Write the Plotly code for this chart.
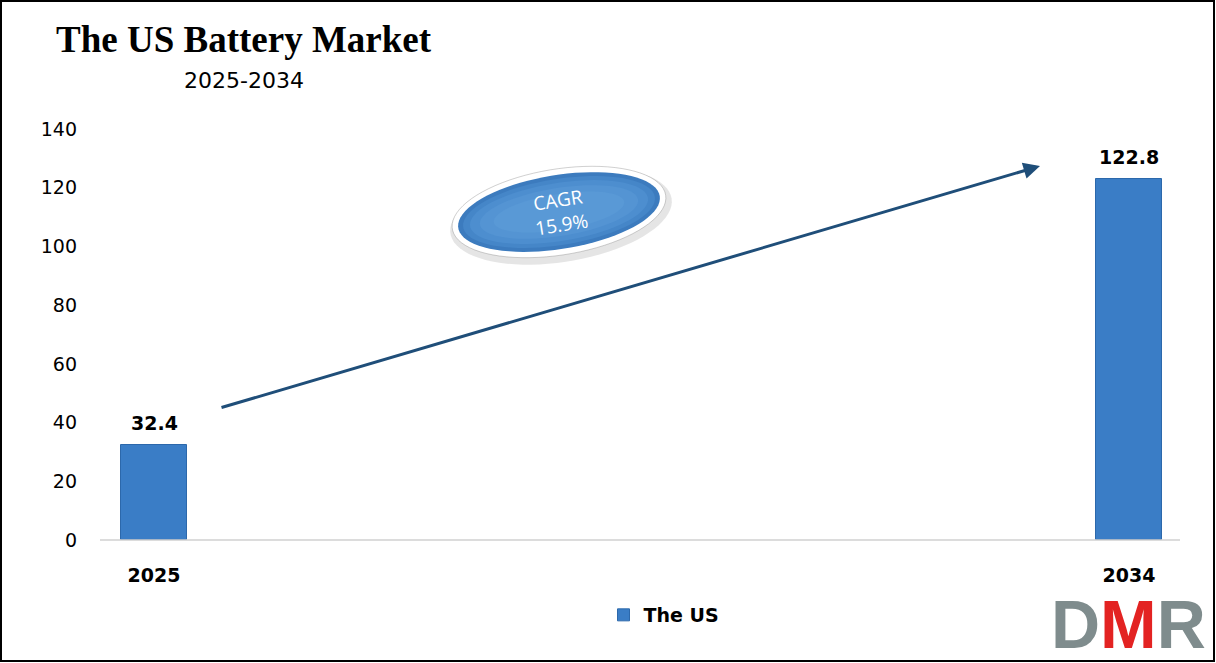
import numpy as np
import plotly.graph_objects as go

# ---- data ----
years = ["2025", "2034"]
values = [32.4, 122.8]
series_name = "The US"
y_ticks = [0, 20, 40, 60, 80, 100, 120, 140]
cagr_text = "CAGR<br>15.9%"
title_text = "The US Battery Market"
subtitle_text = "2025-2034"

W, H = 1216, 663
L, R, T, B = 100, 1180, 129, 540  # plot area in pixels


def px(x):
    return (x - L) / (R - L)


def py(y):
    return (B - y) / (B - T)


xpos = list(range(len(years)))
bar_color = "#3A7DC6"

fig = go.Figure()
fig.add_trace(go.Bar(
    x=xpos, y=values, name=series_name, width=0.067,
    marker=dict(color=bar_color, line=dict(color="#2C68AB", width=1)),
    cliponaxis=False,
))

shapes = []
# figure border
shapes.append(dict(type="rect", xref="paper", yref="paper",
                   x0=px(1), x1=px(W - 2), y0=py(H - 2), y1=py(1),
                   line=dict(color="#000000", width=2), fillcolor="rgba(0,0,0,0)",
                   layer="above"))


def ellipse_path(cx, cy, a, b, ang_deg, n=80):
    t = np.linspace(0, 2 * np.pi, n)
    ang = np.deg2rad(ang_deg)
    xs = cx + a * np.cos(t) * np.cos(ang) - b * np.sin(t) * np.sin(ang)
    ys = cy - (a * np.cos(t) * np.sin(ang) + b * np.sin(t) * np.cos(ang))
    pts = [f"{px(x):.5f},{py(y):.5f}" for x, y in zip(xs, ys)]
    return "M " + " L ".join(pts) + " Z"


cx, cy = 559, 212
# shadow
shapes.append(dict(type="path", xref="paper", yref="paper",
                   path=ellipse_path(cx + 2, cy + 4, 112, 46, 9),
                   fillcolor="rgba(0,0,0,0.10)", line=dict(width=0)))
# white rim
shapes.append(dict(type="path", xref="paper", yref="paper",
                   path=ellipse_path(cx, cy, 108, 43, 9),
                   fillcolor="#FFFFFF", line=dict(color="rgba(120,120,120,0.35)", width=1)))
# blue body with soft gradient layers
for (a, b, col) in [(102, 37, "#3C7BBE"), (97, 33, "#4586C8"), (90, 29, "#4D8ECF"),
                    (80, 24, "#5494D3"), (66, 18, "#5999D6")]:
    shapes.append(dict(type="path", xref="paper", yref="paper",
                       path=ellipse_path(cx, cy, a, b, 9),
                       fillcolor=col, line=dict(width=0)))
# x axis baseline
shapes.append(dict(type="line", xref="paper", yref="paper",
                   x0=0, x1=1, y0=0, y1=0, line=dict(color="#D0D0D0", width=1.5)))

annotations = [
    dict(text=title_text, xref="paper", yref="paper", x=px(54), y=py(39),
         xanchor="left", yanchor="middle", showarrow=False,
         font=dict(family="Liberation Serif", size=37, color="#000000", weight="bold")),
    dict(text=subtitle_text, xref="paper", yref="paper", x=px(244), y=py(80),
         xanchor="center", yanchor="middle", showarrow=False,
         font=dict(family="DejaVu Sans", size=22, color="#000000")),
    dict(text="", xref="paper", yref="paper", axref="pixel", ayref="pixel",
         x=px(1040), y=py(166), ax=220 - 1040, ay=408 - 166,
         showarrow=True, arrowhead=2, arrowsize=1.1, arrowwidth=3, arrowcolor="#1F4E79"),
    dict(text=cagr_text, xref="paper", yref="paper", x=px(cx), y=py(cy),
         xanchor="center", yanchor="middle", showarrow=False, textangle=-9,
         font=dict(family="Open Sans", size=19, color="#FFFFFF")),
    dict(text="<span style='color:#7F8C8D'>D</span><span style='color:#E32322'>M</span><span style='color:#7F8C8D'>R</span>",
         xref="paper", yref="paper", x=px(1208), y=py(624),
         xanchor="right", yanchor="middle", showarrow=False, height=56, valign="middle",
         font=dict(family="Liberation Sans", size=68, weight="bold")),
]
# value labels above bars
for xv, v in zip(xpos, values):
    annotations.append(dict(text=f"{v:.1f}", x=xv, y=v, xref="x", yref="y",
                            yshift=22, showarrow=False, xanchor="center", yanchor="middle",
                            font=dict(family="DejaVu Sans", size=19, color="#000000",
                                      weight="bold")))

fig.update_layout(
    width=W, height=H,
    margin=dict(l=L, r=W - R, t=T, b=H - B, pad=0),
    paper_bgcolor="#FFFFFF", plot_bgcolor="#FFFFFF",
    shapes=shapes, annotations=annotations,
    showlegend=True,
    legend=dict(orientation="h", x=px(664), y=py(615), xanchor="center", yanchor="middle",
                font=dict(family="DejaVu Sans", size=19, color="#000000", weight="bold"),
                itemwidth=30),
    xaxis=dict(range=[-54 / 975, 1 + 51 / 975], tickmode="array", tickvals=xpos,
               ticktext=years, showgrid=False, zeroline=False, showline=False,
               ticks="", ticklabelstandoff=22,
               tickfont=dict(family="DejaVu Sans", size=19, color="#000000", weight="bold")),
    yaxis=dict(range=[0, 140], tickmode="array", tickvals=y_ticks,
               showgrid=False, zeroline=False, showline=False, ticks="",
               ticklabelstandoff=22,
               tickfont=dict(family="DejaVu Sans", size=19, color="#000000")),
    bargap=0,
)

fig.write_html("out.html", config={"displayModeBar": False},
               post_script="document.body.style.margin='0px';")
